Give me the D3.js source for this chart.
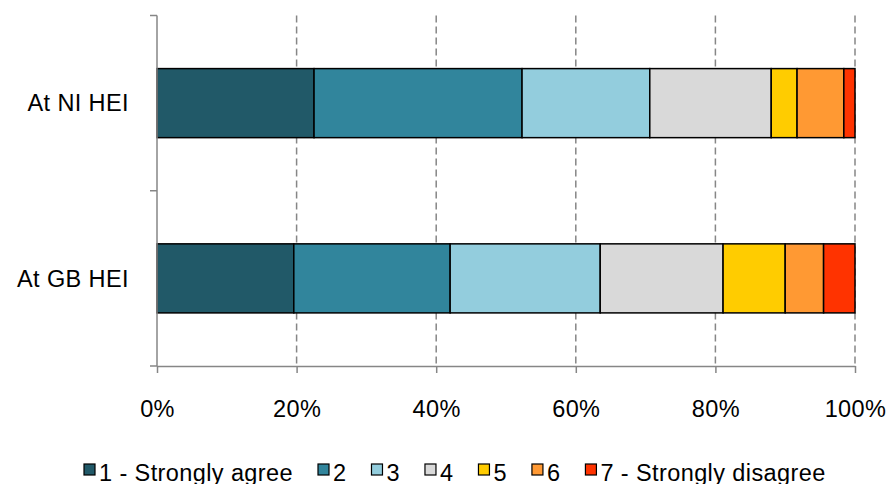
<!DOCTYPE html>
<html>
<head>
<meta charset="utf-8">
<script src="https://cdn.jsdelivr.net/npm/d3@7/dist/d3.min.js"></script>
<style>
  html, body { margin: 0; padding: 0; background: #fff; }
  svg text { font-family: "Liberation Sans", Arial, sans-serif; fill: #000; }
</style>
</head>
<body>
<svg id="chart" width="890" height="484"></svg>
<script>
// Survey responses (% of respondents) by location of institution
const categories = ["At NI HEI", "At GB HEI"];
const responseLabels = ["1 - Strongly agree", "2", "3", "4", "5", "6", "7 - Strongly disagree"];
const niValues = [22.5, 29.8, 18.3, 17.4, 3.7, 6.7, 1.6];
const gbValues = [19.6, 22.4, 21.5, 17.6, 8.9, 5.5, 4.5];
const xTicks = [0, 20, 40, 60, 80, 100];
const colors = ["#215968", "#31859C", "#93CDDD", "#D9D9D9", "#FFCC00", "#FF9933", "#FF3300"];

const seriesByCategory = { "At NI HEI": niValues, "At GB HEI": gbValues };
const rows = categories.map(c => {
  const row = { category: c };
  responseLabels.forEach((k, i) => { row[k] = seriesByCategory[c][i]; });
  return row;
});
const stacked = d3.stack().keys(responseLabels)(rows);

const svg = d3.select("#chart");
const plotLeft = 157, plotRight = 855, plotTop = 15.5, plotBottom = 366;
const fontSize = 23.5, spacing = "0.4px";

const x = d3.scaleLinear().domain([0, 100]).range([plotLeft, plotRight]);
const y = d3.scaleBand().domain(categories).range([plotTop, plotBottom])
  .paddingInner(0.606).paddingOuter(0.303);
const color = d3.scaleOrdinal().domain(responseLabels).range(colors);

const axisColor = "#868686";

// Vertical dashed gridlines
svg.append("g").selectAll("line")
  .data(xTicks.filter(t => t > 0))
  .join("line")
  .attr("x1", d => x(d)).attr("x2", d => x(d))
  .attr("y1", plotTop).attr("y2", plotBottom)
  .attr("stroke", axisColor).attr("stroke-width", 1.5)
  .attr("stroke-dasharray", "7,4");

// Stacked bars
svg.append("g").selectAll("g")
  .data(stacked)
  .join("g")
  .attr("fill", d => color(d.key))
  .selectAll("rect")
  .data(d => d)
  .join("rect")
  .attr("x", d => x(d[0]))
  .attr("y", d => y(d.data.category))
  .attr("width", d => x(d[1]) - x(d[0]))
  .attr("height", y.bandwidth())
  .attr("stroke", "#000").attr("stroke-width", 1.5);

// X axis
const xAxis = d3.axisBottom(x).tickValues(xTicks).tickFormat(d => d + "%")
  .tickSize(7).tickSizeOuter(0);
const gx = svg.append("g").attr("transform", `translate(0,${plotBottom})`).call(xAxis);
gx.select(".domain").attr("stroke", axisColor).attr("stroke-width", 1.5);
gx.selectAll(".tick line").attr("stroke", axisColor).attr("stroke-width", 1.5);
gx.selectAll(".tick text")
  .attr("font-size", fontSize).attr("letter-spacing", spacing)
  .attr("dy", 0).attr("y", 51).attr("fill", "#000")
  .style("font-family", "'Liberation Sans', Arial, sans-serif");

// Y axis: line with tick marks at category boundaries
const yBoundaries = d3.range(categories.length + 1).map(i => plotTop + i * y.step());
svg.append("line")
  .attr("x1", plotLeft).attr("x2", plotLeft).attr("y1", plotTop).attr("y2", plotBottom)
  .attr("stroke", axisColor).attr("stroke-width", 1.5);
svg.append("g").selectAll("line")
  .data(yBoundaries)
  .join("line")
  .attr("x1", plotLeft - 7).attr("x2", plotLeft)
  .attr("y1", d => d).attr("y2", d => d)
  .attr("stroke", axisColor).attr("stroke-width", 1.5);

// Category labels
svg.append("g").selectAll("text")
  .data(categories)
  .join("text")
  .attr("x", 129)
  .attr("y", d => y(d) + y.bandwidth() / 2)
  .attr("dy", "0.35em")
  .attr("text-anchor", "end")
  .attr("font-size", fontSize).attr("letter-spacing", spacing)
  .text(d => d);

// Legend
const legend = svg.append("g");
let lx = 84;
const ly = 464;
responseLabels.forEach((label, i) => {
  legend.append("rect")
    .attr("x", lx).attr("y", ly).attr("width", 11).attr("height", 11)
    .attr("fill", colors[i]).attr("stroke", "#000").attr("stroke-width", 1.2);
  const t = legend.append("text")
    .attr("x", lx + 15).attr("y", ly + 16.5)
    .attr("font-size", fontSize).attr("letter-spacing", spacing)
    .text(label);
  lx += 15 + t.node().getComputedTextLength() + 25;
});
</script>
</body>
</html>
